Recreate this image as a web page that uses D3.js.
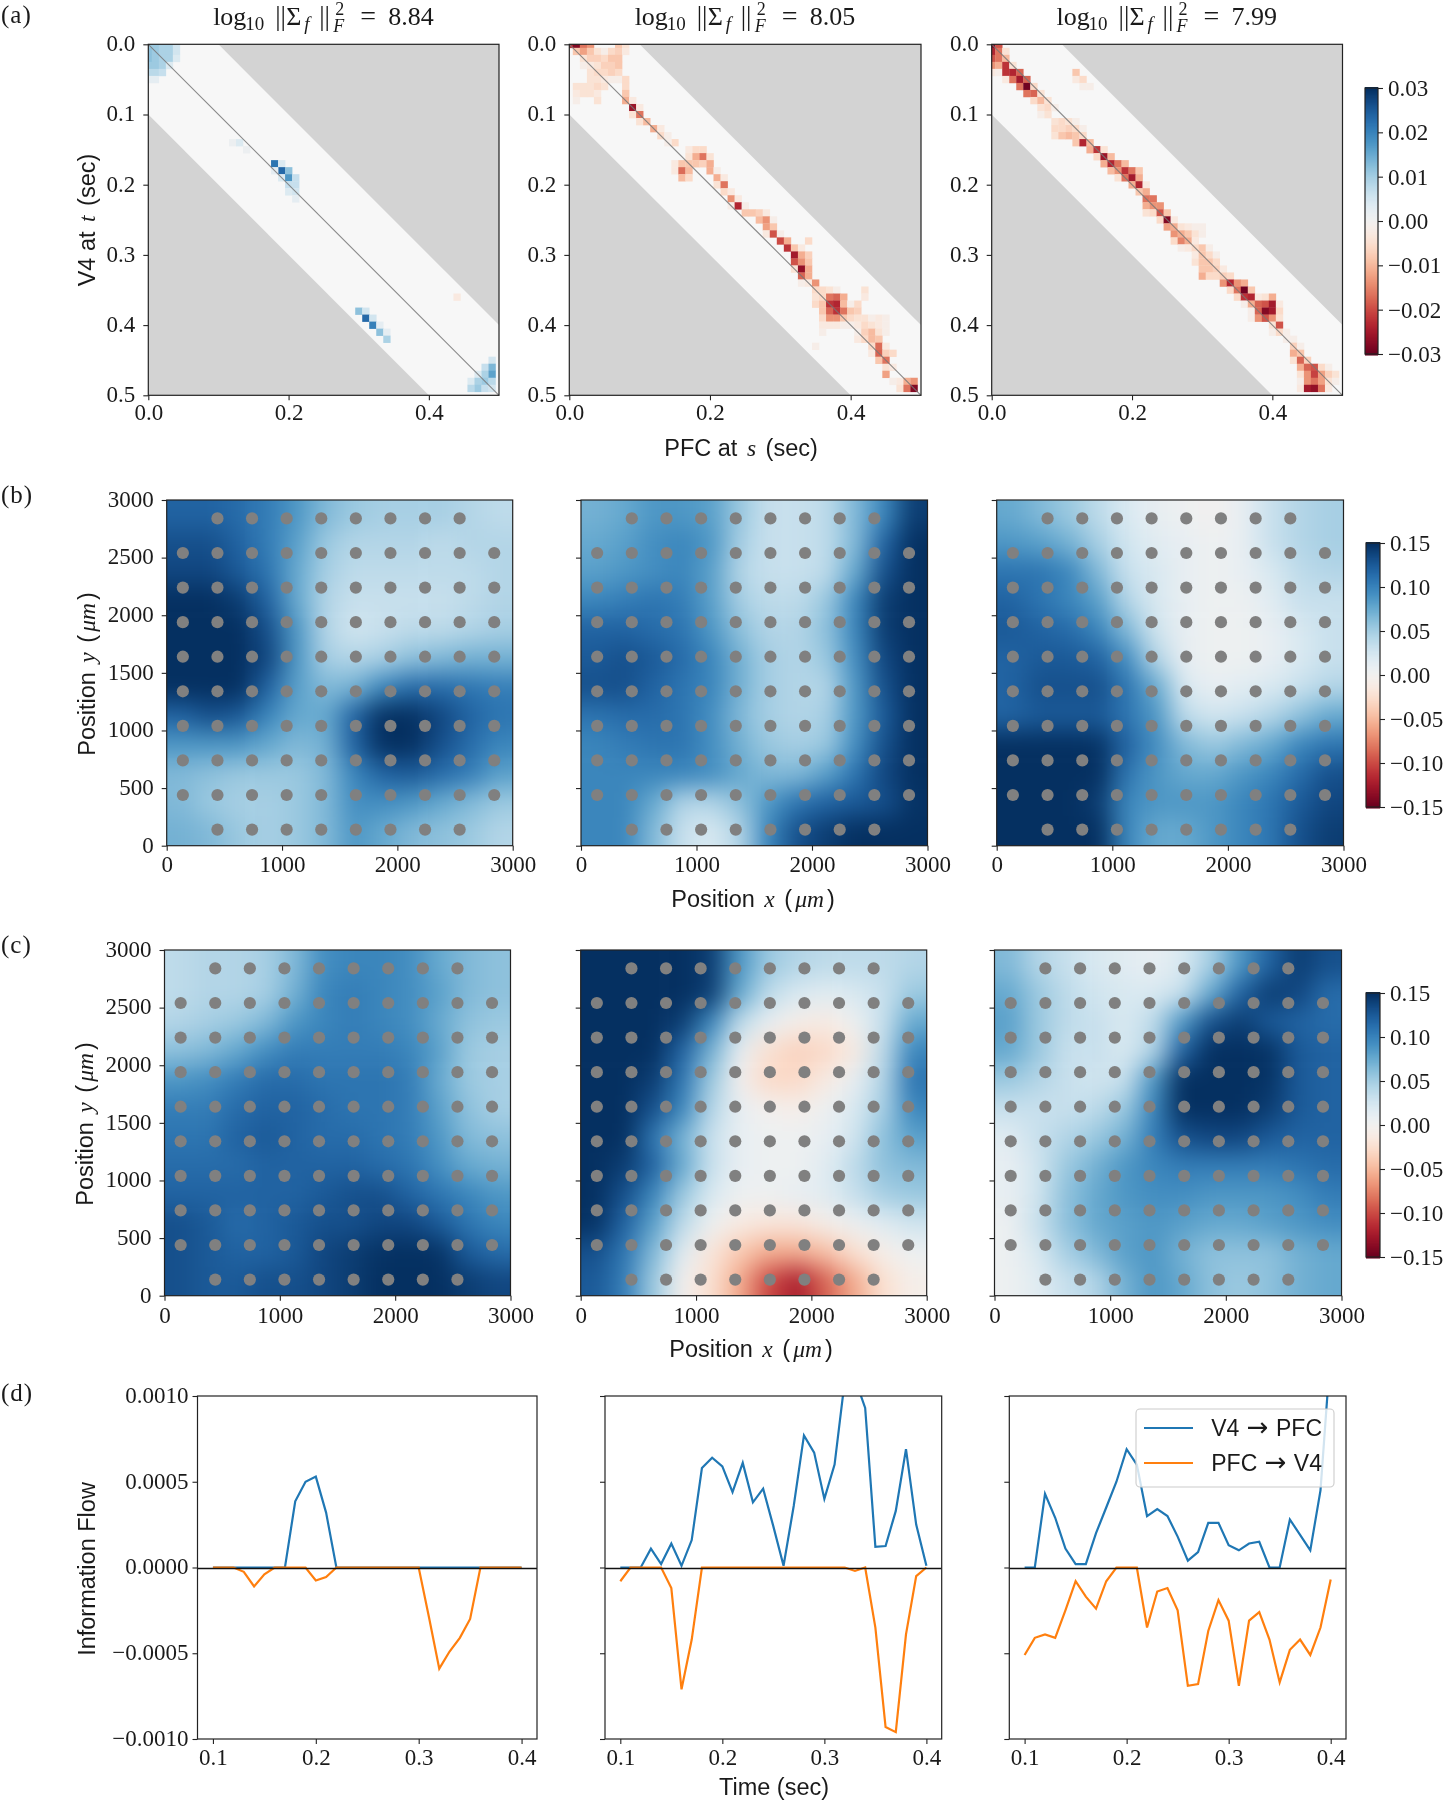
<!DOCTYPE html>
<html><head><meta charset="utf-8">
<script src="https://cdnjs.cloudflare.com/ajax/libs/d3/7.8.5/d3.min.js"></script>
<style>
html,body{margin:0;padding:0;background:#fff}
svg{display:block;filter:blur(0.45px)}
text{fill:#1a1a1a}
.serif{font-family:"Liberation Serif",serif}
.sans{font-family:"Liberation Sans",sans-serif}
</style></head><body>
<div id="chart"></div>
<script>
// ---------- (a) sparse 0.01 s cells: [row, col, value in estimated units] ----------
const a1Cells=[[0,0,8],[0,1,8],[0,2,7],[0,3,7],[0,4,4],[1,0,9],[1,1,8],[1,2,7],[1,3,7],[1,4,4],[2,0,9],[2,1,8],[2,2,7],[2,3,7],[2,4,3],[3,0,8],[3,1,8],[3,2,7],[3,3,3],[4,0,6],[4,1,6],[4,2,5],[5,0,2],[5,1,2],
[14,12,1],[14,13,3],[15,14,1],[17,18,20],[17,19,3],[18,19,22],[18,20,9],[18,18,2],[19,19,3],[19,20,14],[19,21,5],[20,20,5],[20,21,5],[21,20,3],[21,21,4],[22,21,2],
[38,30,9],[38,31,4],[39,31,22],[39,32,4],[40,32,18],[40,33,2],[41,33,9],[41,34,2],[42,34,7],[36,44,-2],
[45,49,4],[46,48,5],[46,49,10],[47,47,3],[47,48,7],[47,49,12],[48,46,3],[48,47,7],[48,48,8],[48,49,6],[49,46,6],[49,47,8],[49,48,5],[49,49,4]];

const a2Cells=[[0,0,-20],[0,1,-28],[0,2,-12],[0,3,-10],[0,7,-6],[0,8,-3],[1,1,-6],[1,2,-9],[1,3,-6],[1,4,-3],[1,5,-1],[1,6,-4],[1,7,-5],[1,8,-2],
[2,2,-3],[2,3,-5],[2,4,-5],[2,5,-4],[2,6,-6],[2,7,-6],[3,2,-1],[3,3,-2],[3,4,-3],[3,5,-5],[3,6,-5],[3,7,-6],[4,3,-3],[4,4,-4],[4,5,-4],[4,6,-5],[4,7,-4],
[5,3,-3],[5,4,-3],[5,5,-2],[5,6,-1],[5,7,-1],[5,8,-4],[6,1,-3],[6,2,-3],[6,3,-3],[6,4,-4],[6,5,-3],[6,8,-4],[7,1,-2],[7,2,-3],[7,3,-3],[7,4,-2],[7,8,-6],[8,1,-1],[8,4,-3],[8,8,-8],[8,9,-2],
[9,9,-25],[9,10,-2],[10,9,-3],[10,10,-12],[11,10,-3],[11,11,-7],[12,12,-8],[12,13,-2],[13,13,-4],[13,14,-1],[14,15,-4],[14,14,-1],
[15,17,-2],[15,18,-4],[15,19,-4],[16,17,-3],[16,18,-8],[16,19,-12],[16,20,-3],[17,15,-2],[17,16,-6],[17,17,-6],[17,18,-6],[17,19,-5],[17,20,-8],[18,15,-2],[18,16,-13],[18,17,-7],[18,20,-8],[18,21,-1],[19,16,-7],[19,17,-4],[19,21,-8],[19,22,-2],
[20,21,-3],[20,22,-12],[21,22,-4],[21,23,-2],[22,23,-10],[22,24,-2],[23,23,-1],[23,24,-22],[23,25,-1],[24,25,-6],[24,26,-6],[24,27,-5],[24,28,-2],[25,27,-7],[25,28,-10],[25,29,-1],[26,28,-9],[26,29,-6],[27,28,-2],[27,29,-16],[27,30,-1],
[28,30,-17],[28,31,-8],[28,34,-4],[29,31,-20],[29,32,-6],[29,33,-2],[30,32,-24],[30,33,-8],[30,34,-5],[31,32,-16],[31,33,-10],[31,34,-6],[32,32,-3],[32,33,-26],[32,34,-8],[33,33,-14],[33,34,-8],[34,33,-1],[34,34,-2],[34,35,-10],
[35,35,-4],[35,36,-4],[35,37,-3],[35,38,-1],[35,42,-3],[36,35,-3],[36,36,-4],[36,37,-12],[36,38,-14],[36,39,-8],[36,42,-2],[37,35,-4],[37,36,-6],[37,37,-20],[37,38,-22],[37,39,-7],[37,40,-1],[37,41,-4],
[38,36,-6],[38,37,-14],[38,38,-20],[38,39,-12],[38,40,-6],[38,41,-5],[39,36,-4],[39,37,-10],[39,38,-10],[39,39,-6],[39,40,-4],[39,41,-3],[39,42,-3],[39,43,-1],[39,44,-2],[39,45,-1],
[40,36,-2],[40,37,-2],[40,38,-2],[40,39,-1],[40,40,-1],[40,41,-2],[40,42,-4],[40,43,-3],[40,44,-2],[40,45,-1],[41,36,-1],[41,41,-1],[41,42,-5],[41,43,-7],[41,44,-3],[41,45,-1],[42,41,-2],[42,42,-4],[42,43,-7],[42,44,-6],
[43,35,-1],[43,43,-4],[43,44,-13],[43,45,-2],[44,43,-2],[44,44,-14],[44,45,-5],[44,46,-4],[45,44,-6],[45,45,-12],[46,45,-3],[46,46,-2],[47,45,-9],[48,46,-1],[48,47,-2],[48,48,-8],[48,49,-10],[49,47,-3],[49,48,-12],[49,49,-28]];

const a3Cells=[[0,0,-28],[0,1,-16],[1,0,-22],[1,1,-12],[1,2,-3],[2,0,-16],[2,1,-12],[2,2,-7],[3,0,-10],[3,1,-8],[3,2,-20],[3,3,-3],[4,0,-2],[4,1,-1],[4,2,-20],[4,3,-22],[4,4,-14],[4,12,-6],
[5,2,-2],[5,3,-12],[5,4,-24],[5,5,-14],[5,12,-2],[5,13,-4],[6,4,-12],[6,5,-30],[6,6,-4],[6,13,-1],[6,14,-1],[7,5,-12],[7,6,-14],[7,7,-3],[8,6,-4],[8,7,-7],[8,8,-3],[9,7,-3],[9,8,-4],[9,9,-1],[10,7,-1],[10,8,-3],
[11,9,-3],[11,10,-4],[11,11,-3],[11,12,-1],[12,9,-4],[12,10,-4],[12,11,-5],[12,12,-4],[12,13,-1],[13,9,-3],[13,10,-6],[13,11,-7],[13,12,-6],[13,13,-4],[14,12,-6],[14,13,-22],[14,14,-7],[15,14,-8],[15,15,-20],[15,16,-3],
[16,15,-4],[16,16,-25],[16,17,-7],[17,16,-8],[17,17,-22],[17,18,-12],[17,19,-7],[18,17,-7],[18,18,-10],[18,19,-20],[18,20,-12],[18,21,-6],[19,18,-3],[19,19,-12],[19,20,-24],[19,21,-8],[20,20,-8],[20,21,-22],[20,22,-2],
[21,21,-6],[21,22,-8],[22,22,-12],[22,23,-12],[23,22,-8],[23,23,-10],[23,24,-10],[24,22,-3],[24,23,-4],[24,24,-16],[24,25,-6],[25,24,-4],[25,25,-28],[25,26,-2],[26,25,-9],[26,26,-8],[26,27,-3],[26,28,-2],[26,29,-1],[26,30,-1],
[27,26,-10],[27,27,-8],[27,28,-6],[27,29,-3],[27,30,-1],[28,26,-4],[28,27,-11],[28,28,-8],[28,29,-2],[29,27,-1],[29,28,-2],[29,29,-4],[29,30,-6],[29,31,-1],[30,29,-2],[30,30,-6],[30,31,-4],[30,32,-1],
[31,29,-3],[31,30,-6],[31,31,-6],[31,32,-4],[32,30,-6],[32,31,-6],[32,32,-5],[32,33,-2],[33,30,-8],[33,31,-4],[33,32,-4],[33,33,-5],[33,34,-4],[34,33,-10],[34,34,-22],[34,35,-10],[34,36,-8],
[35,34,-4],[35,35,-12],[35,36,-30],[35,37,-6],[36,35,-4],[36,36,-20],[36,37,-22],[36,38,-2],[36,39,-3],[36,40,-8],[37,36,-1],[37,37,-8],[37,38,-14],[37,39,-16],[37,40,-24],[37,41,-2],[38,37,-1],[38,38,-14],[38,39,-28],[38,40,-24],[38,41,-4],
[39,37,-1],[39,38,-10],[39,39,-16],[39,40,-10],[39,41,-3],[40,40,-3],[40,41,-16],[41,40,-1],[41,41,-4],[41,42,-1],[42,42,-1],[42,43,-1],[43,43,-5],[43,44,-1],[44,43,-8],[44,44,-6],[45,43,-3],[45,44,-14],[45,45,-5],
[46,44,-8],[46,45,-14],[46,46,-16],[46,47,-4],[46,48,-1],[47,44,-3],[47,45,-10],[47,46,-18],[47,47,-9],[47,48,-5],[47,49,-3],[48,44,-1],[48,45,-10],[48,46,-12],[48,47,-9],[48,48,-3],[48,49,-1],[49,44,-2],[49,45,-24],[49,46,-26],[49,47,-12],[49,48,-2]];

const titleValues=["8.84","8.05","7.99"];
const aTicksX=[0,.2,.4], aTicksY=[0,.1,.2,.3,.4,.5];
const aBarTicks=[.03,.02,.01,0,-.01,-.02,-.03];
const posTicks=[0,1000,2000,3000], posTicksY=[0,500,1000,1500,2000,2500,3000];
const spatialBarTicks=[.15,.10,.05,0,-.05,-.10,-.15];
const electrodePos=[140,440,740,1040,1340,1640,1940,2240,2540,2840];

// ---------- (b),(c) loadings read on a 250 um grid, top row first ----------
const b1Grid=[[11,11,10.5,9.5,8,6,5,4.5,4.5,4.5,4,3.5],[12,12,11,9.5,7.5,5,4,4,4,3.5,4,4],[12.5,12.5,11.5,10,7,4.5,3.5,3.5,3.5,3.5,3.5,4],[14.5,14.5,13,11,7,4,3,3,3,3,3.5,4],[16,16,14.5,12,8,4,2.5,3,3.5,3.5,4,4.5],[17,17,16,12.5,8,4.5,4,4.5,5.5,6,6.5,6.5],[16,16,15,11,7.5,6,6.5,9,10.5,10.5,10,9.5],[11,12,11.5,9,7,7,11,14.5,16,12.5,11,10],[8,8,8,7,6,6.5,11,14,16,12,10.5,9],[6,5.5,5,5,5,6,9,11,11.5,10.5,9.5,7.5],[6,5,4.5,4.5,5,6,8.5,8.5,8,7,6,5],[6.5,6,5,4.5,5,6,8,7,6,5.5,5,4]];
const b2Grid=[[6.5,7,8,8,7.5,5,3,3,3.5,6,9,13],[7,7.5,8.5,9,8,4.5,3,3,3.5,6,11,15.5],[7.5,8,8.5,9,7.5,4,3,3,3.5,7,12,17],[9,9.5,10,9.5,7.5,4.5,3.5,3.5,5,9,13,17],[11,11,10.5,10,8,5.5,4,4,5.5,9,13,16],[11.5,12,11.5,10.5,9,6.5,4.5,4,5,8.5,12.5,15.5],[12,12,11,10,9,6.5,4.5,4,4,8,12,15.5],[10,10.5,10.5,10,8.5,6,4.5,4,4.5,8,11.5,16],[9,9.5,10,10,8.5,6.5,5,4.5,5,8.5,12,15.5],[9,9,9,9,8.5,7,6,6,7.5,10,12.5,14],[9,9,7,4,4,5.5,8,10,11,11.5,12,13.5],[9,9,6,3,2,4,9,12,13,14,14.5,14.5]];
const b3Grid=[[7,6,5,3.5,2,1,0.5,0,1,3,4,4.5],[8,7.5,6.5,4.5,2.5,1.5,1,0.5,1,3,4,4.5],[10,10,9,6,3,2,1,0.5,1,2,3.5,4],[11,10,9,7.5,4,2,1,0.5,0.5,1.5,3,3],[11.5,11,10.5,9,6,2.5,1,0.5,0.5,1,2,3],[11,11.5,11.5,11,8.5,4,1,0.5,0.5,1,2,3],[11,12,12,12,10,7,2,1,1.5,2,3,4],[11,11.5,11.5,11.5,10,8,3.5,2.5,3,4,5.5,7],[14,15,16,13.5,11,8.5,6,5,6,7,9,10],[16,17,17,14,10,8,7,7,8,9,10.5,12],[17,17,17,13,9,8,8,8,9,10,11.5,12.5],[17,17,17,14,9,7,7,8,9,10,12,13]];
const c1Grid=[[3.5,4,4,4.5,6,8.5,9,9,8.5,7,6,5.5],[3.5,4,4,4.5,6.5,9,9.5,9,8.5,7.5,6,5.5],[4,4.5,5,6,8,9,9.5,9,8.5,7,5.5,5],[5.5,6,7,8.5,9.5,9.5,9.5,9.5,9,7.5,5,4.5],[8,8.5,9.5,10.5,10.5,10,10,10,9.5,7,5,4.5],[9.5,9.5,10.5,11,11,10.5,10,10,9.5,7.5,5.5,4.5],[10,10,11,11.5,11,10.5,10.5,10,9.5,8,6,5.5],[10.5,10.5,10.5,11,11,11,11,10.5,10,8.5,7,6.5],[11,11,11,11,11,11.5,12,12,11,10,9,8],[12,11.5,10.5,11,11.5,12,12,12.5,12.5,11.5,10,9],[12,11.5,11,11,11.5,12.5,13,13.5,14,13.5,11.5,10.5],[12,11.5,11.5,12,12,12.5,13,14,15,15,13,12.5]];
const c2Grid=[[17,17,17,16,13,8,5,4,3.5,3.5,3.5,4],[17,17,17,16,13,7,3.5,2,1.5,2,3,5],[17,17,16.5,13,9,3.5,1,-0.5,-1,0.5,3,7],[17,17,15,11,6.5,1,-2,-3,-2.5,-1,3.5,9],[17,17,13,10,5,0,-2.5,-2.5,-1,1,4,10],[17,16,12,9,4,1,0,-0.5,0.5,2,4.5,9],[17,15,10,6.5,3,1,0.5,0.5,1,2.5,5.5,7.5],[16,13,11,7,3,1,0.5,0.5,1.5,3.5,5.5,6],[15,12,9,5,2,0.5,0.5,1,1.5,3,4.5,5],[13.5,11,7.5,3.5,0.5,-1,-1.5,-1.5,-0.5,0.5,1.5,2.5],[12,10,6,1.5,-1.5,-3.5,-5,-5,-4,-2,-0.5,0.5],[11.5,9.5,5,0,-2,-5,-9,-11,-8,-5,-2,-0.5]];
const c3Grid=[[6,4,3,2,1.5,1,2,4.5,8,11,13,12],[7,5,3.5,2.5,2,2,3,7,11,13,12.5,10.5],[7.5,5,3.5,3,2,3.5,8,12,13,11.5,11,10.5],[7,5,3,3,2,4,11,17,18,13.5,11.5,11],[5,4,3,2.5,3,8,15,18,18,13.5,11.5,11],[3,3,3,3.5,5,9,15,18,17,13,11.5,11],[1.5,3,4,5,6.5,9.5,12,12.5,12.5,11.5,11,11],[1,2.5,5,6.5,8,9,9.5,9.5,9.5,9.5,10,10.5],[1,2.5,5.5,7,8,8.5,8.5,8,8,8,8.5,9.5],[0.5,3,5.5,7,7.5,8,7.5,7,7,7.5,8,8.5],[0.5,2,4.5,6,7.5,8,6.5,5.5,5.5,5.5,6.5,7],[0.5,1.5,3,4,6.5,8,7,5.5,5,5.5,6.5,7]];

// ---------- (d) information flow ----------
const times=[.10,.11,.12,.13,.14,.15,.16,.17,.18,.19,.20,.21,.22,.23,.24,.25,.26,.27,.28,.29,.30,.31,.32,.33,.34,.35,.36,.37,.38,.39,.40];
const d1Blue=[0,0,0,0,0,0,0,0,.000386,.0005,.00053,.00032,0,0,0,0,0,0,0,0,0,0,0,0,0,0,0,0,0,0,0];
const d1Orange=[0,0,0,-.000025,-.00011,-.00004,0,0,0,0,-.000076,-.000056,0,0,0,0,0,0,0,0,0,-.00029,-.00059,-.00049,-.00041,-.0003,0,0,0,0,0];
const d2Blue=[0,0,0,.00011,.00002,.00014,.00001,.00016,.00058,.00064,.00059,.00044,.00061,.00038,.00046,.00024,.00001,.00036,.00077,.00067,.0004,.0006,.00109,.0011,.00093,.00012,.000125,.00033,.00069,.00025,.00001];
const d2Orange=[-.00008,0,0,0,0,-.00012,-.00071,-.00042,0,0,0,0,0,0,0,0,0,0,0,0,0,0,0,-.00002,0,-.00035,-.00093,-.00096,-.00039,-.00005,0];
const d3Blue=[0,0,.00043,.00029,.00011,.00002,.00002,.0002,.00035,.0005,.00069,.0006,.0003,.00034,.0003,.00018,.00004,.00009,.00026,.00026,.00013,.0001,.00014,.00015,0,0,.00028,.00019,.0001,.00045,.00127];
const d3Orange=[-.00051,-.00041,-.00039,-.00041,-.00025,-.00008,-.00017,-.00024,-.00008,0,0,0,-.00035,-.00014,-.00012,-.00025,-.00069,-.00068,-.00037,-.00019,-.00031,-.00069,-.00031,-.00026,-.00042,-.00067,-.00048,-.00042,-.00051,-.00035,-.00007];
const flowTicksY=[-.001,-.0005,0,.0005,.001], flowTicksX=[.1,.2,.3,.4];

const W=1449,H=1800,TICK=23,LAB=23.5;
const sUnit=.011;
// pale cells were read a little low against the colour bar; strong ones were read about right
const aValue=v=>{const m=Math.abs(v),o=m<=12?m*1.35:16.2+(m-12)*.72;return Math.sign(v)*o*.001;};
const svg=d3.select("#chart").append("svg").attr("width",W).attr("height",H).attr("viewBox",`0 0 ${W} ${H}`);
const defs=svg.append("defs");
let clipN=0;
function clip(x0,x1,y0,y1){const id="clip"+(clipN++);defs.append("clipPath").attr("id",id).append("rect").attr("x",x0).attr("y",y0).attr("width",x1-x0).attr("height",y1-y0);return id;}
const uminus=s=>s.replace("-","\u2212");

function styleAxis(g){
  g.select(".domain").remove();
  g.selectAll(".tick line").attr("stroke","#222").attr("stroke-width",1.1);
  g.selectAll(".tick text").attr("class","serif").style("font-size",TICK+"px").style("font-family",'"Liberation Serif",serif').attr("fill","#1a1a1a");
}
function axes(x,y,xv,yv,xf,yf,box,showY,ox,oy,lift){
  const gx=svg.append("g").attr("transform",`translate(0,${box.y1})`).call(d3.axisBottom(x).tickValues(xv).tickFormat(xf).tickSizeOuter(0).tickSize(5).tickPadding(ox));
  styleAxis(gx);
  const gy=svg.append("g").attr("transform",`translate(${box.x0},0)`).call(d3.axisLeft(y).tickValues(yv).tickFormat(showY?yf:()=>"").tickSizeOuter(0).tickSize(5).tickPadding(oy));
  styleAxis(gy);
  gy.selectAll(".tick text").attr("y",lift);
}
function frame(b){svg.append("rect").attr("x",b.x0).attr("y",b.y0).attr("width",b.x1-b.x0).attr("height",b.y1-b.y0).attr("fill","none").attr("stroke","#222").attr("stroke-width",1.2);}

function mathTitle(cx,yb,val){
  const x0=cx-110.5;
  const t=svg.append("text").attr("class","serif").style("font-size","26px");
  const put=(s,dx,dy,size,it)=>{const p=t.append("tspan").attr("x",x0+dx).attr("y",yb+dy).text(s);if(size)p.style("font-size",size+"px");if(it)p.style("font-style","italic");return p;};
  put("log",0,0);
  put("10",32,5,19);
  put("||",62,0,27);
  put("\u03a3",73,0);
  put("f",91,5,19,true);
  put("||",106,0,27);
  put("F",120,7,18,true);
  put("2",122,-10,18);
  put("=",147,0,28);
  put(val,175,0);
}
function label(x,y,parts,rot){
  const t=svg.append("text").attr("text-anchor","middle").attr("transform",`translate(${x},${y})`+(rot?" rotate(-90)":"")).style("font-size",LAB+"px");
  let afterMath=false;
  parts.forEach(p=>{const s=t.append("tspan").text(p[0]);
    s.style("font-family",p[1]?'"Liberation Serif",serif':'"Liberation Sans",sans-serif');
    if(p[1]){s.style("font-style","italic").attr("dx",3);}
    else if(afterMath){s.attr("dx",3);}
    afterMath=!!p[1];});
}
function panelTag(y,s){svg.append("text").attr("class","serif").attr("x",1).attr("y",y).style("font-size","25px").style("letter-spacing","1px").text(s);}

function colorbar(x0,x1,y0,y1,max,ticks,fmt,color){
  const y=d3.scaleLinear().domain([-max,max]).range([y1,y0]);
  const steps=d3.range(0,256).map(i=>-max+2*max*i/255);
  svg.append("g").selectAll("rect").data(steps).join("rect")
    .attr("x",x0).attr("width",x1-x0).attr("y",d=>y(d)-1).attr("height",(y1-y0)/255+1.5).attr("fill",d=>color(d));
  const g=svg.append("g").attr("transform",`translate(${x1},0)`).call(d3.axisRight(y).tickValues(ticks).tickFormat(fmt).tickSize(5).tickSizeOuter(0).tickPadding(5));
  styleAxis(g);
  frame({x0,x1,y0,y1});
}

// ---------- (a) ----------
const aColor=d3.scaleSequential(d3.interpolateRdBu).domain([-.03,.03]).clamp(true);
const aY=[44.3,395.3], aX=[[148.3,499],[569.3,921],[991.7,1342.5]];
[a1Cells,a2Cells,a3Cells].forEach((cells,k)=>{
  const b={x0:aX[k][0],x1:aX[k][1],y0:aY[0],y1:aY[1]};
  const x=d3.scaleLinear().domain([0,.5]).range([b.x0,b.x1]);
  const y=d3.scaleLinear().domain([0,.5]).range([b.y0,b.y1]);
  svg.append("rect").attr("x",b.x0).attr("y",b.y0).attr("width",b.x1-b.x0).attr("height",b.y1-b.y0).attr("fill","#d3d3d3");
  const band=[[0,0],[.1,0],[.5,.4],[.5,.5],[.4,.5],[0,.1]];
  svg.append("path").attr("d",d3.line().x(d=>x(d[0])).y(d=>y(d[1]))(band)+"Z").attr("fill","#f7f7f7");
  svg.append("g").attr("clip-path",`url(#${clip(b.x0,b.x1,b.y0,b.y1)})`).selectAll("rect").data(cells).join("rect")
    .attr("x",d=>x((d[1]-.5)*.01)).attr("y",d=>y((d[0]-.5)*.01)).attr("width",x(.01)-x(0)+.3).attr("height",y(.01)-y(0)+.3)
    .attr("fill",d=>aColor(aValue(d[2])));
  svg.append("line").attr("x1",x(0)).attr("y1",y(0)).attr("x2",x(.5)).attr("y2",y(.5)).attr("stroke","#777").attr("stroke-width",1.1).attr("opacity",.85);
  axes(x,y,aTicksX,aTicksY,d3.format(".1f"),d3.format(".1f"),b,true,3,8,-1);
  frame(b);
  mathTitle((b.x0+b.x1)/2,25,titleValues[k]);
});
colorbar(1365,1378,88,354,.03,aBarTicks,d=>uminus(d3.format(".2f")(d)),aColor);
label(95,220,[["V4 at "],["t",1],[" (sec)"]],true);
label(741,456,[["PFC at "],["s",1],[" (sec)"]]);
panelTag(23,"(a)");

// ---------- (b),(c) ----------
const sColor=d3.scaleSequential(d3.interpolateRdBu).domain([-.15,.15]).clamp(true);
defs.append("filter").attr("id","smooth").attr("x","-10%").attr("y","-10%").attr("width","120%").attr("height","120%")
  .attr("color-interpolation-filters","sRGB").append("feGaussianBlur").attr("stdDeviation",12);
function spatial(grid,b,showY,ox){
  const x=d3.scaleLinear().domain([0,3000]).range([b.x0,b.x1]);
  const y=d3.scaleLinear().domain([0,3000]).range([b.y1,b.y0]);
  const step=250,bleed=60;
  const cells=grid.flatMap((row,r)=>row.map((v,c)=>({r,c,v})));
  const g=svg.append("g").attr("clip-path",`url(#${clip(b.x0,b.x1,b.y0,b.y1)})`).append("g").attr("filter","url(#smooth)");
  g.selectAll("rect").data(cells).join("rect")
    .attr("x",d=>x(d.c*step)-(d.c===0?bleed:0))
    .attr("width",d=>x(step)-x(0)+.5+(d.c===0||d.c===11?bleed:0))
    .attr("y",d=>y(3000-d.r*step)-(d.r===0?bleed:0))
    .attr("height",d=>y(0)-y(step)+.5+(d.r===0||d.r===11?bleed:0))
    .attr("fill",d=>sColor(d.v*sUnit));
  const pts=electrodePos.flatMap(px=>electrodePos.map(py=>[px,py])).filter(p=>!((p[0]===140||p[0]===2840)&&(p[1]===140||p[1]===2840)));
  svg.append("g").selectAll("circle").data(pts).join("circle").attr("cx",d=>x(d[0])).attr("cy",d=>y(d[1])).attr("r",6.1).attr("fill","#808080");
  axes(x,y,posTicks,posTicksY,d3.format("d"),d3.format("d"),b,showY,ox,8,-1);
  frame(b);
}
const bX=[[166.7,512.7],[581,927.5],[996.7,1343.5]], cX=[[164.5,510.5],[580.7,926.7],[994.5,1341.5]];
[b1Grid,b2Grid,b3Grid].forEach((g,k)=>spatial(g,{x0:bX[k][0],x1:bX[k][1],y0:500,y1:845.7},k===0,5));
[c1Grid,c2Grid,c3Grid].forEach((g,k)=>spatial(g,{x0:cX[k][0],x1:cX[k][1],y0:950,y1:1295.7},k===0,6));
const sFmt=d=>uminus(d3.format(".2f")(d));
colorbar(1366,1380,543,807,.15,spatialBarTicks,sFmt,sColor);
colorbar(1366,1380,993,1257,.15,spatialBarTicks,sFmt,sColor);
label(95,674,[["Position "],["y",1],[" ("],["\u03bcm",1],[")"]],true);
label(93,1124,[["Position "],["y",1],[" ("],["\u03bcm",1],[")"]],true);
label(753,907,[["Position "],["x",1],[" ("],["\u03bcm",1],[")"]]);
label(751,1357,[["Position "],["x",1],[" ("],["\u03bcm",1],[")"]]);
panelTag(503,"(b)");panelTag(953,"(c)");

// ---------- (d) ----------
const dX=[[197.5,537],[605,941.7],[1009.3,1346]],dY=[1396,1739];
[[d1Blue,d1Orange],[d2Blue,d2Orange],[d3Blue,d3Orange]].forEach((s,k)=>{
  const b={x0:dX[k][0],x1:dX[k][1],y0:dY[0],y1:dY[1]};
  const x=d3.scaleLinear().domain([.085,.415]).range([b.x0,b.x1]);
  const y=d3.scaleLinear().domain([-.001,.001]).range([b.y1,b.y0]);
  const cid=clip(b.x0,b.x1,b.y0,b.y1);
  const line=d3.line().x((d,i)=>x(times[i])).y(d=>y(d));
  const g=svg.append("g").attr("clip-path",`url(#${cid})`);
  g.append("path").attr("d",line(s[0])).attr("fill","none").attr("stroke","#1f77b4").attr("stroke-width",2.2);
  g.append("path").attr("d",line(s[1])).attr("fill","none").attr("stroke","#ff7f0e").attr("stroke-width",2.2);
  g.append("line").attr("x1",b.x0).attr("x2",b.x1).attr("y1",y(0)+1).attr("y2",y(0)+1).attr("stroke","#111").attr("stroke-width",1.3);
  axes(x,y,flowTicksX,flowTicksY,d3.format(".1f"),d=>uminus(d3.format(".4f")(d)),b,k===0,5,4,-1);
  frame(b);
});
// legend
const lg=svg.append("g");
lg.append("rect").attr("x",1136).attr("y",1409).attr("width",198).attr("height",78).attr("rx",4).attr("fill","#fff").attr("fill-opacity",.8).attr("stroke","#ccc").attr("stroke-width",1.1);
const legendRows=[{c:"#1f77b4",a:"V4",b:"PFC",y:1428},{c:"#ff7f0e",a:"PFC",b:"V4",y:1463}];
legendRows.forEach(r=>{
  lg.append("line").attr("x1",1144).attr("x2",1193).attr("y1",r.y).attr("y2",r.y).attr("stroke",r.c).attr("stroke-width",2.2);
  const t=lg.append("text").attr("class","sans").attr("x",1322).attr("y",r.y+8).attr("text-anchor","end").style("font-size","23px");
  t.append("tspan").text(r.a+" ");
  t.append("tspan").attr("dx",1).style("font-family",'"DejaVu Sans",sans-serif').style("font-size","26px").text("\u2192");
  t.append("tspan").attr("dx",1).text(" "+r.b);
});
label(95,1569,[["Information Flow"]],true);
label(774,1795,[["Time (sec)"]]);
panelTag(1401,"(d)");
</script>
</body></html>
